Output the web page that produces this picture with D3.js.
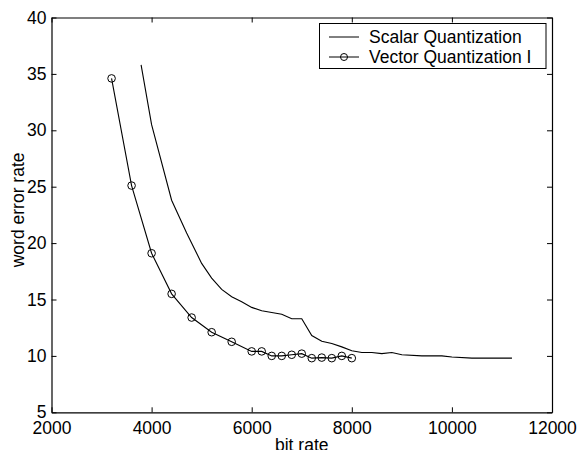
<!DOCTYPE html>
<html>
<head>
<meta charset="utf-8">
<script src="https://d3js.org/d3.v7.min.js"></script>
<style>
  html, body { margin: 0; padding: 0; background: #fff; }
  text { font-family: "Liberation Sans", Arial, sans-serif; }
</style>
</head>
<body>
<svg id="chart" width="577" height="450"></svg>
<script>
// ---- data ----
const xTicks = [2000, 4000, 6000, 8000, 10000, 12000];
const yTicks = [5, 10, 15, 20, 25, 30, 35, 40];

const scalarX = [3790, 4000, 4400, 4700, 5000, 5200, 5400, 5600, 5800, 6000, 6200, 6400, 6600, 6800, 7000, 7200, 7400, 7600, 7800, 8000, 8200, 8400, 8600, 8800, 9000, 9400, 9800, 10000, 10400, 11200];
const scalarY = [35.8, 30.5, 23.8, 20.9, 18.2, 16.9, 15.9, 15.25, 14.8, 14.3, 14.0, 13.85, 13.7, 13.3, 13.3, 11.8, 11.3, 11.1, 10.8, 10.45, 10.3, 10.3, 10.2, 10.3, 10.1, 10.0, 10.0, 9.9, 9.8, 9.8];

const vqX = [3200, 3600, 4000, 4400, 4800, 5200, 5600, 6000, 6200, 6400, 6600, 6800, 7000, 7200, 7400, 7600, 7800, 8000];
const vqY = [34.6, 25.1, 19.1, 15.5, 13.4, 12.1, 11.25, 10.4, 10.4, 10.0, 10.0, 10.1, 10.2, 9.8, 9.85, 9.8, 10.0, 9.8];

const seriesNames = ["Scalar Quantization", "Vector Quantization I"];
const xLabel = "bit rate";
const yLabel = "word error rate";

// ---- layout ----
const W = 577, H = 450;
const margin = { left: 51.5, top: 17.5, right: 25, bottom: 37.7 };
const iw = W - margin.left - margin.right;
const ih = H - margin.top - margin.bottom;

const svg = d3.select("#chart");
const g = svg.append("g").attr("transform", `translate(${margin.left},${margin.top})`);

const x = d3.scaleLinear().domain([2000, 12000]).range([0, iw]);
const y = d3.scaleLinear().domain([5, 40]).range([ih, 0]);

const fs = 17.5;

// axes
const axB = g.append("g").attr("transform", `translate(0,${ih})`)
  .call(d3.axisBottom(x).tickValues(xTicks).tickFormat(d3.format("d")).tickSizeInner(-5).tickSizeOuter(0).tickPadding(9));
const axL = g.append("g")
  .call(d3.axisLeft(y).tickValues(yTicks).tickFormat(d3.format("d")).tickSizeInner(-5).tickSizeOuter(0).tickPadding(5));
const axT = g.append("g")
  .call(d3.axisTop(x).tickValues(xTicks).tickFormat("").tickSizeInner(-5).tickSizeOuter(0));
const axR = g.append("g").attr("transform", `translate(${iw},0)`)
  .call(d3.axisRight(y).tickValues(yTicks).tickFormat("").tickSizeInner(-5).tickSizeOuter(0));

[axB, axL, axT, axR].forEach(a => {
  a.selectAll("path.domain").attr("stroke", "#000").attr("stroke-width", 1.2);
  a.selectAll(".tick line").attr("stroke", "#000").attr("stroke-width", 1);
  a.selectAll(".tick text").attr("fill", "#000").style("font-size", fs + "px")
    .style("font-family", '"Liberation Sans", Arial, sans-serif');
});

// lines
const line = d3.line().x(d => x(d[0])).y(d => y(d[1]));
const scalarData = scalarX.map((v, i) => [v, scalarY[i]]);
const vqData = vqX.map((v, i) => [v, vqY[i]]);

g.append("path").datum(scalarData).attr("d", line)
  .attr("fill", "none").attr("stroke", "#000").attr("stroke-width", 1.1);
g.append("path").datum(vqData).attr("d", line)
  .attr("fill", "none").attr("stroke", "#000").attr("stroke-width", 1.1);
g.selectAll("circle.vq").data(vqData).enter().append("circle")
  .attr("class", "vq")
  .attr("cx", d => x(d[0])).attr("cy", d => y(d[1])).attr("r", 3.8)
  .attr("fill", "none").attr("stroke", "#000").attr("stroke-width", 1);

// axis labels
svg.append("text").attr("x", margin.left + iw / 2).attr("y", 451)
  .attr("text-anchor", "middle").style("font-size", fs + "px").text(xLabel);
svg.append("text").attr("transform", `translate(24,${margin.top + ih / 2 - 5}) rotate(-90)`)
  .attr("text-anchor", "middle").style("font-size", fs + "px").text(yLabel);

// legend
const lg = svg.append("g");
lg.append("rect").attr("x", 319.5).attr("y", 23.5).attr("width", 226.5).attr("height", 45)
  .attr("fill", "#fff").attr("stroke", "#000").attr("stroke-width", 1);
const rows = [37, 57];
seriesNames.forEach((name, i) => {
  lg.append("line").attr("x1", 329).attr("x2", 359).attr("y1", rows[i]).attr("y2", rows[i])
    .attr("stroke", "#000").attr("stroke-width", 1);
  if (i === 1) {
    lg.append("circle").attr("cx", 344).attr("cy", rows[i]).attr("r", 3.5)
      .attr("fill", "none").attr("stroke", "#000").attr("stroke-width", 1);
  }
  lg.append("text").attr("x", 369).attr("y", rows[i] + 6).style("font-size", fs + "px").text(name);
});
</script>
</body>
</html>
